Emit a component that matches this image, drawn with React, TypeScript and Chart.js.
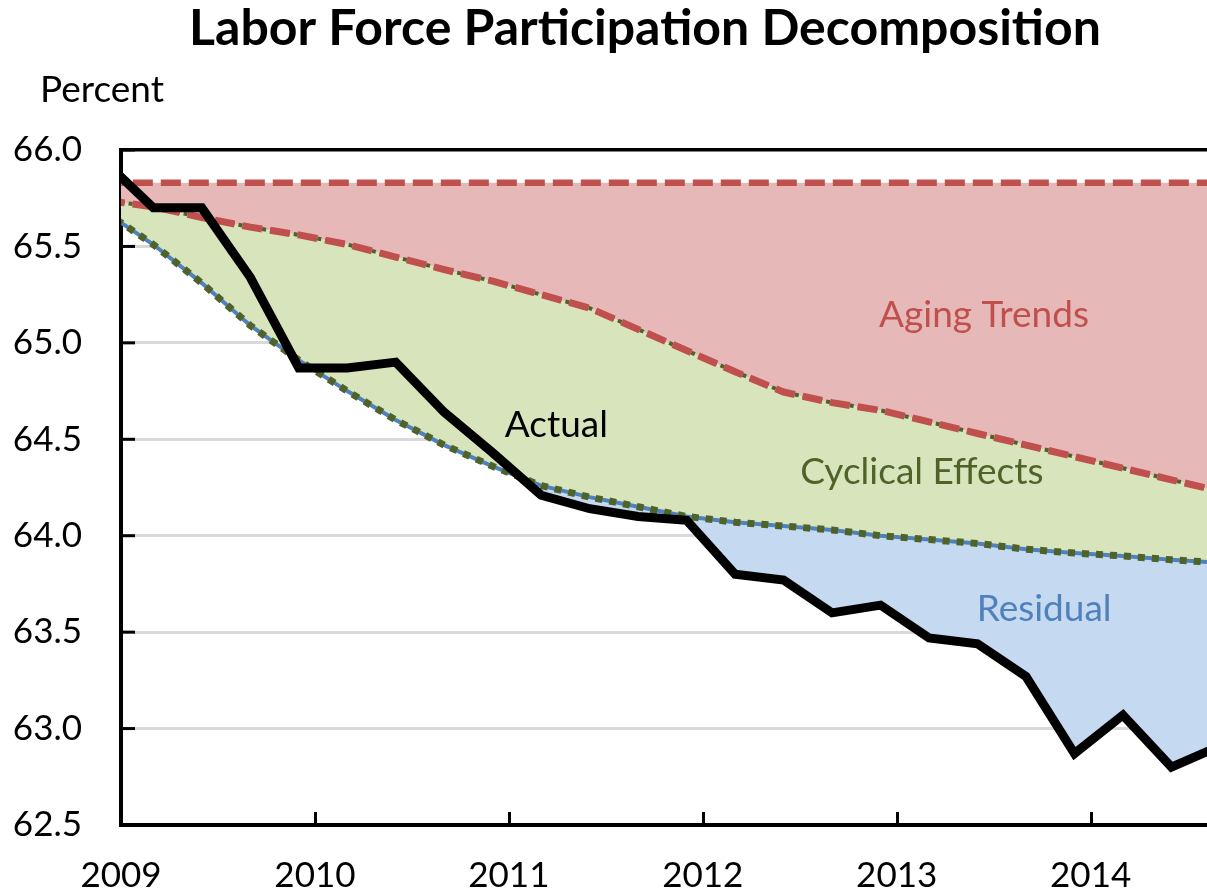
import React, { useEffect, useRef } from "react";
import { Chart, registerables } from "chart.js";

Chart.register(...registerables);

// Quarterly observations (plotted on the first day of Mar/Jun/Sep/Dec)
const quarters = [
  "2008-12", "2009-03", "2009-06", "2009-09", "2009-12", "2010-03", "2010-06", "2010-09",
  "2010-12", "2011-03", "2011-06", "2011-09", "2011-12", "2012-03", "2012-06", "2012-09",
  "2012-12", "2013-03", "2013-06", "2013-09", "2013-12", "2014-03", "2014-06", "2014-09",
];

const actual = [
  65.94, 65.7, 65.7, 65.34, 64.87, 64.87, 64.9, 64.64, 64.43, 64.21, 64.14, 64.1,
  64.08, 63.8, 63.77, 63.6, 63.64, 63.47, 63.44, 63.27, 62.87, 63.07, 62.8, 62.91,
];

const noAgingTrend = [
  65.83, 65.83, 65.83, 65.83, 65.83, 65.83, 65.83, 65.83, 65.83, 65.83, 65.83, 65.83,
  65.83, 65.83, 65.83, 65.83, 65.83, 65.83, 65.83, 65.83, 65.83, 65.83, 65.83, 65.83,
];

const agingTrend = [
  65.74, 65.705, 65.65, 65.6, 65.56, 65.51, 65.445, 65.38, 65.32, 65.25, 65.18, 65.07,
  64.96, 64.85, 64.745, 64.69, 64.65, 64.59, 64.53, 64.47, 64.41, 64.35, 64.29, 64.23,
];

const cyclicalTrend = [
  65.68, 65.51, 65.31, 65.09, 64.91, 64.75, 64.6, 64.47, 64.36, 64.26, 64.2, 64.15,
  64.1, 64.07, 64.05, 64.03, 64.0, 63.98, 63.96, 63.93, 63.91, 63.895, 63.875, 63.86,
];

const yearTicks = [2009, 2010, 2011, 2012, 2013, 2014];

const TITLE = "Labor Force Participation Decomposition";
const Y_UNIT = "Percent";
const annotations = [
  { text: "Aging Trends", x: 2013.45, y: 65.145, color: "#C0504D" },
  { text: "Cyclical Effects", x: 2013.13, y: 64.33, color: "#4F6228" },
  { text: "Residual", x: 2013.76, y: 63.62, color: "#4F81BD" },
  { text: "Actual", x: 2011.245, y: 64.575, color: "#000000" },
];

const FONT = "Lato, 'Noto Sans', sans-serif";

function toYear(q: string): number {
  const [y, m] = q.split("-").map(Number);
  return y + (m - 1) / 12;
}

function pts(values: number[]) {
  return values.map((v, i) => ({ x: toYear(quarters[i]), y: v }));
}

export default function App() {
  const ref = useRef<HTMLCanvasElement | null>(null);

  useEffect(() => {
    if (!ref.current) return;

    const decor = {
      id: "decor",
      beforeDatasetsDraw(chart: any) {
        const { ctx, chartArea, scales } = chart;
        ctx.save();
        ctx.strokeStyle = "#000";
        ctx.lineWidth = 3;
        yearTicks.forEach((yr) => {
          const px = Math.round(scales.x.getPixelForValue(yr)) + 0.5;
          ctx.beginPath();
          ctx.moveTo(px, chartArea.bottom);
          ctx.lineTo(px, chartArea.bottom - 13);
          ctx.stroke();
        });
        for (let v = 62.5; v <= 66.0001; v += 0.5) {
          const py = scales.y.getPixelForValue(v);
          ctx.beginPath();
          ctx.moveTo(chartArea.left, py);
          ctx.lineTo(chartArea.left + 14, py);
          ctx.stroke();
        }
        ctx.restore();
      },
      afterDraw(chart: any) {
        const { ctx, scales } = chart;
        ctx.save();
        ctx.textAlign = "center";
        ctx.textBaseline = "middle";
        ctx.fillStyle = "#000";
        ctx.font = `bold 50px ${FONT}`;
        ctx.fillText(TITLE, 645, 29);
        ctx.textAlign = "left";
        ctx.font = `37px ${FONT}`;
        ctx.fillText(Y_UNIT, 40, 90);
        ctx.textAlign = "center";
        ctx.font = `37px ${FONT}`;
        annotations.forEach((a) => {
          ctx.fillStyle = a.color;
          ctx.fillText(a.text, scales.x.getPixelForValue(a.x), scales.y.getPixelForValue(a.y));
        });
        ctx.restore();
      },
    };

    const chart = new Chart(ref.current, {
      type: "line",
      data: {
        datasets: [
          {
            label: "Actual",
            data: pts(actual),
            borderColor: "#000000",
            borderWidth: 9,
            borderJoinStyle: "miter",
            pointRadius: 0,
            fill: false,
            clip: 0,
            order: 0,
          },
          {
            label: "Trend without aging",
            data: pts(noAgingTrend),
            borderColor: "#C0504D",
            borderWidth: 6.5,
            borderDash: [20, 8],
            pointRadius: 0,
            fill: { target: 2 },
            backgroundColor: "#E6B8B7",
            clip: 0,
            order: 1,
          },
          {
            label: "Aging trend",
            data: pts(agingTrend),
            borderColor: "#C0504D",
            borderWidth: 7,
            borderDash: [20, 8],
            pointRadius: 0,
            fill: false,
            clip: 0,
            order: 2,
          },
          {
            label: "Aging trend (cyclical border)",
            data: pts(agingTrend),
            borderColor: "#4F6228",
            borderWidth: 4,
            borderDash: [4, 4],
            pointRadius: 0,
            fill: { target: 4 },
            backgroundColor: "#D8E4BC",
            clip: 0,
            order: 3,
          },
          {
            label: "Cyclical trend",
            data: pts(cyclicalTrend),
            borderColor: "#4F6228",
            borderWidth: 7,
            borderDash: [7, 7],
            pointRadius: 0,
            fill: false,
            clip: 0,
            order: 4,
          },
          {
            label: "Cyclical trend (residual border)",
            data: pts(cyclicalTrend),
            borderColor: "#4F81BD",
            borderWidth: 4,
            pointRadius: 0,
            fill: { target: 0, above: "#C5D9F1", below: "rgba(0,0,0,0)" },
            clip: 0,
            order: 5,
          },
        ],
      },
      options: {
        responsive: false,
        animation: false,
        layout: { padding: { top: 150, right: 0, bottom: 0, left: 0 } },
        plugins: {
          legend: { display: false },
          title: { display: false },
          tooltip: { enabled: false },
          filler: { drawTime: "beforeDatasetsDraw" },
        },
        scales: {
          x: {
            type: "linear",
            min: 2009,
            max: 2014.6,
            afterBuildTicks: (scale: any) => {
              scale.ticks = yearTicks.map((v) => ({ value: v }));
            },
            afterFit: (scale: any) => {
              scale.height = 69;
            },
            grid: { display: false, drawTicks: false },
            border: { display: true, color: "#000", width: 4 },
            ticks: {
              padding: 30,
              color: "#000",
              font: { family: FONT, size: 35 },
              callback: (v: any) => String(v),
              maxRotation: 0,
              autoSkip: false,
            },
          },
          y: {
            min: 62.5,
            max: 66.0,
            afterFit: (scale: any) => {
              scale.width = 121;
            },
            grid: {
              drawTicks: false,
              color: (c: any) =>
                c.tick && (Math.abs(c.tick.value - 66) < 1e-6 || Math.abs(c.tick.value - 62.5) < 1e-6)
                  ? "#000"
                  : "#D9D9D9",
              lineWidth: (c: any) =>
                c.tick && Math.abs(c.tick.value - 66) < 1e-6 ? 3.5 : 3,
            },
            border: { display: true, color: "#000", width: 4 },
            ticks: {
              stepSize: 0.5,
              padding: 39,
              color: "#000",
              font: { family: FONT, size: 35 },
              callback: (v: any) => Number(v).toFixed(1),
            },
          },
        },
      },
      plugins: [decor],
    } as any);

    return () => chart.destroy();
  }, []);

  return (
    <div style={{ position: "absolute", left: 0, top: 0, width: 1207, height: 894, background: "#fff" }}>
      <canvas ref={ref} width={1207} height={894} style={{ display: "block" }} />
    </div>
  );
}
